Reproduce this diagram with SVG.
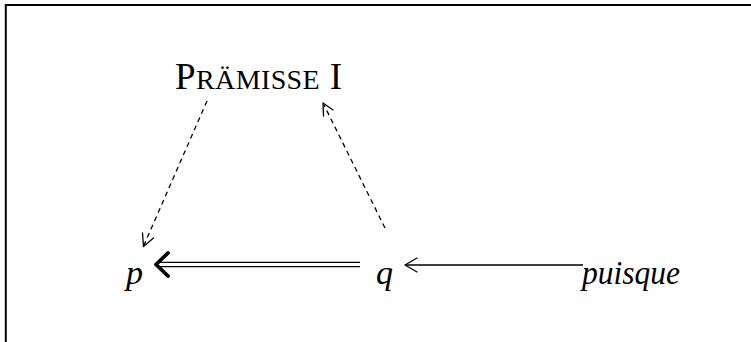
<svg xmlns="http://www.w3.org/2000/svg" width="751" height="342" viewBox="0 0 751 342">
<style>
.it{font-family:"Liberation Serif","Times New Roman",serif;font-style:italic;font-size:34px;fill:#000}
.sc{font-family:"Liberation Serif","Times New Roman",serif;font-size:37px;fill:#000}
.dash{fill:none;stroke:#000;stroke-width:1.3;stroke-dasharray:5,4}
.thin{fill:none;stroke:#000;stroke-width:1.3}
.head{fill:none;stroke:#000;stroke-width:1.3;stroke-linecap:round;stroke-linejoin:round}
</style>
<rect width="751" height="342" fill="#fff"/>
<path d="M5.8,342 V5 H751" fill="none" stroke="#000" stroke-width="2"/>
<g id="premise"><text class="sc" x="175" y="89" textLength="167" lengthAdjust="spacing">P<tspan font-size="28">RÄMISSE</tspan> I</text></g>
<g id="p"><text class="it" x="126" y="284">p</text></g>
<g id="q"><text class="it" x="376" y="284">q</text></g>
<g id="puisque"><text class="it" x="582" y="284" textLength="98" lengthAdjust="spacingAndGlyphs">puisque</text></g>
<g id="connectors">
<path class="dash" d="M207,101 L144,245"/>
<path class="head" d="M143.5,246.5 L142.5,233 M143.5,246.5 L153.5,238"/>
<path class="dash" d="M385,228 L324,105"/>
<path class="head" d="M323,103 L323.5,116 M323,103 L333,110"/>
<path class="thin" d="M158,262.3 H360 M158,266.7 H360"/>
<path d="M168,253 L156,264.5 L168,276" fill="none" stroke="#000" stroke-width="3.8" stroke-linecap="round" stroke-linejoin="round"/>
<path class="thin" d="M406,265 H583"/>
<path class="head" d="M405,265 L417,258 M405,265 L417,272"/>
</g>
</svg>
